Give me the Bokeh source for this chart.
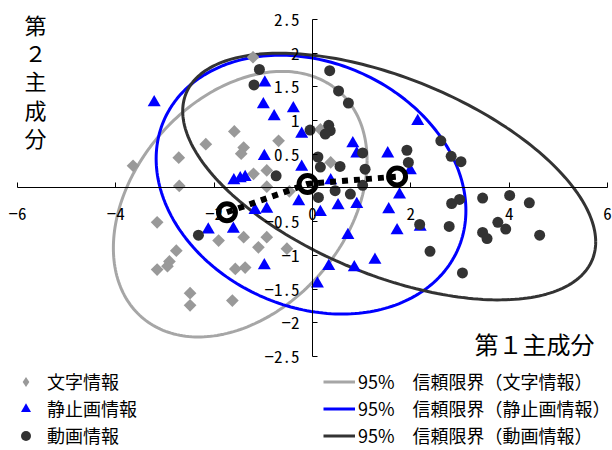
import numpy as np
from bokeh.plotting import figure
from bokeh.models import Range1d, FixedTicker, LinearAxis, Label, Legend, LegendItem
from bokeh.embed import file_html
from bokeh.resources import INLINE

# ---- data ----
text_x = [-1.21, -1.59, -2.17, -1.40, -1.45, -2.72, -3.65, -2.71, -0.69, -1.20,
          -0.93, 0.16, 0.37, -0.93, -0.47, -3.16, -1.91, -1.40, -0.93, -1.10,
          -0.52, -2.77, -2.91, -2.95, -3.16, -1.57, -1.37, -2.49, -2.49, -1.63]
text_y = [1.94, 0.84, 0.65, 0.60, 0.51, 0.45, 0.33, 0.03, 0.70, 0.21,
          0.26, 0.87, 0.38, 0.02, -0.05, -0.51, -0.78, -0.73, -0.73, -0.88,
          -0.90, -0.93, -1.09, -1.16, -1.21, -1.20, -1.18, -1.56, -1.74, -1.67]

still_x = [-3.22, -0.97, -1.00, -0.39, -0.78, -0.22, -0.98, -0.22, -1.60, -1.47,
           -1.37, 0.37, 0.82, 0.90, 1.53, 2.14, 1.99, -2.12, -1.61, -1.17,
           -0.93, -0.28, 0.16, 0.52, 0.90, 1.55, 1.77, 1.72, 0.72, 0.33,
           0.85, 1.27, 0.10, -0.98, 2.19]
still_y = [1.27, 1.56, 1.24, 1.18, 1.06, 0.80, 0.47, 0.31, 0.11, 0.14,
           0.16, 0.11, 0.66, 0.51, 0.51, 0.99, 0.26, -0.62, -0.61, -0.33,
           -0.31, -0.20, -0.36, -0.26, -0.24, -0.32, -0.10, -0.63, -0.70, -1.16,
           -1.18, -1.07, -1.42, -1.15, -0.58]

video_x = [-1.08, -1.19, -0.05, 0.11, -0.74, 0.35, 0.53, 0.73, 0.33, 0.36,
           0.26, 1.02, 0.16, 0.56, 1.07, 1.02, 1.92, 1.95, 2.61, 2.82,
           3.02, 0.12, 0.46, 0.77, 2.83, 2.99, 3.46, 4.01, 4.41, 2.18,
           2.78, 3.77, 3.93, 3.46, 3.55, 4.62, 2.39, 3.05, -2.32]
video_y = [1.76, 1.53, 0.86, 0.46, 0.18, 1.74, 1.44, 1.26, 0.93, 0.85,
           0.80, 0.52, 0.31, 0.32, 0.28, 0.04, 0.56, 0.38, 0.70, 0.47,
           0.39, -0.14, -0.04, -0.09, -0.23, -0.17, -0.15, -0.11, -0.22, -0.54,
           -0.57, -0.51, -0.61, -0.66, -0.75, -0.70, -0.94, -1.26, -0.70]

# group centres
centroid_x = [-1.74, -0.10, 1.72]
centroid_y = [-0.36, 0.06, 0.17]

# 95% confidence ellipses: centre, half extent in x and y, correlation
ell_names = ["文字情報", "静止画情報", "動画情報"]
ell_cx = [-1.47, -0.03, 1.56]
ell_cy = [-0.24, 0.05, 0.17]
ell_sx = [2.58, 3.15, 4.20]
ell_sy = [1.97, 1.92, 1.83]
ell_r = [0.33, -0.20, -0.53]

x_ticks = [-6, -4, -2, 0, 2, 4, 6]
x_tick_labels = ["−6", "−4", "−2", "0", "2", "4", "6"]
y_ticks = [-2.5, -2, -1.5, -1, -0.5, 0, 0.5, 1, 1.5, 2, 2.5]
y_tick_labels = ["−2.5", "−2", "−1.5", "−1", "−0.5", "", "0.5", "1", "1.5", "2", "2.5"]

GRAY_PT = "#999999"
GRAY_LN = "#a6a6a6"
BLUE = "#0000ff"
DARK = "#333333"
ell_colors = [GRAY_LN, BLUE, DARK]

JP = "Noto Sans CJK JP"
MONO = "Noto Sans Mono CJK JP"

W, H = 612, 450
p = figure(width=W, height=H,
           x_range=Range1d(-6.3458, 6.1017), y_range=Range1d(-3.8947, 2.7819),
           output_backend="svg", toolbar_location=None, min_border=0,
           x_axis_type=None, y_axis_type=None)
p.outline_line_color = None
p.background_fill_color = "white"
p.border_fill_color = "white"

xaxis = LinearAxis(fixed_location=0, bounds=(-6, 6), ticker=FixedTicker(ticks=x_ticks),
                   major_label_overrides={t: l for t, l in zip(x_ticks, x_tick_labels)})
yaxis = LinearAxis(fixed_location=0, bounds=(-2.5, 2.5), ticker=FixedTicker(ticks=y_ticks),
                   major_label_overrides={t: l for t, l in zip(y_ticks, y_tick_labels)})
for ax in (xaxis, yaxis):
    ax.axis_line_color = "black"
    ax.axis_line_width = 1
    ax.major_tick_in = 5
    ax.major_tick_out = 0
    ax.minor_tick_in = 0
    ax.minor_tick_out = 0
    ax.major_label_text_font = MONO
    ax.major_label_text_font_size = "17px"
    ax.major_label_text_color = "black"
xaxis.major_label_standoff = 19
yaxis.major_label_standoff = 13
p.add_layout(xaxis, "below")
p.add_layout(yaxis, "left")

# ellipses
t = np.linspace(0, 2 * np.pi, 241)
ell_renderers = []
for cx, cy, sx, sy, r, c in zip(ell_cx, ell_cy, ell_sx, ell_sy, ell_r, ell_colors):
    ex = cx + sx * np.cos(t)
    ey = cy + sy * (r * np.cos(t) + np.sqrt(1 - r * r) * np.sin(t))
    ell_renderers.append(p.line(ex, ey, line_color=c, line_width=3))

# legend swatch for the diamonds: upright diamond hidden under the first data diamond
r_text_key = p.scatter(text_x[:1], text_y[:1], marker="diamond", size=12,
                       fill_color=GRAY_PT, line_color=None)
r_text = p.scatter(text_x, text_y, marker="square", angle=np.pi / 4, size=9,
                   fill_color=GRAY_PT, line_color=None)
r_still = p.scatter(still_x, still_y, marker="triangle", size=13,
                    fill_color=BLUE, line_color=None)
r_video = p.scatter(video_x, video_y, marker="circle", size=11,
                    fill_color=DARK, line_color=None)

p.scatter(centroid_x, centroid_y, marker="circle", size=17, fill_color="white",
          line_color="black", line_width=5)
p.line(centroid_x, centroid_y, line_color="black", line_width=6, line_dash="6 6")

# legends
leg1 = Legend(items=[LegendItem(label="文字情報", renderers=[r_text_key]),
                     LegendItem(label="静止画情報", renderers=[r_still]),
                     LegendItem(label="動画情報", renderers=[r_video])],
              location=(13, 1.5), glyph_width=25, glyph_height=27, label_standoff=9)
leg2 = Legend(items=[LegendItem(label="95%　信頼限界（" + n + "）", renderers=[rr])
                     for n, rr in zip(ell_names, ell_renderers)],
              location=(323, 1.5), glyph_width=32, glyph_height=27, label_standoff=3)
for lg in (leg1, leg2):
    lg.border_line_color = None
    lg.background_fill_alpha = 0
    lg.padding = 0
    lg.margin = 0
    lg.spacing = 0
    lg.label_height = 27
    lg.label_text_font = JP
    lg.label_text_font_size = "18px"
    lg.label_text_color = "black"
    p.add_layout(lg, "center")

p.add_layout(Label(x=35, y=H - 7, x_units="screen", y_units="screen",
                   text="第\n２\n主\n成\n分", text_align="center", text_baseline="top",
                   text_font=JP, text_font_size="22px", text_line_height=0.886,
                   text_color="black"))
p.add_layout(Label(x=534, y=H - 343, x_units="screen", y_units="screen",
                   text="第１主成分", text_align="center", text_baseline="middle",
                   text_font=JP, text_font_size="24px", text_color="black"))

open("out.html", "w").write(file_html(p, INLINE))
